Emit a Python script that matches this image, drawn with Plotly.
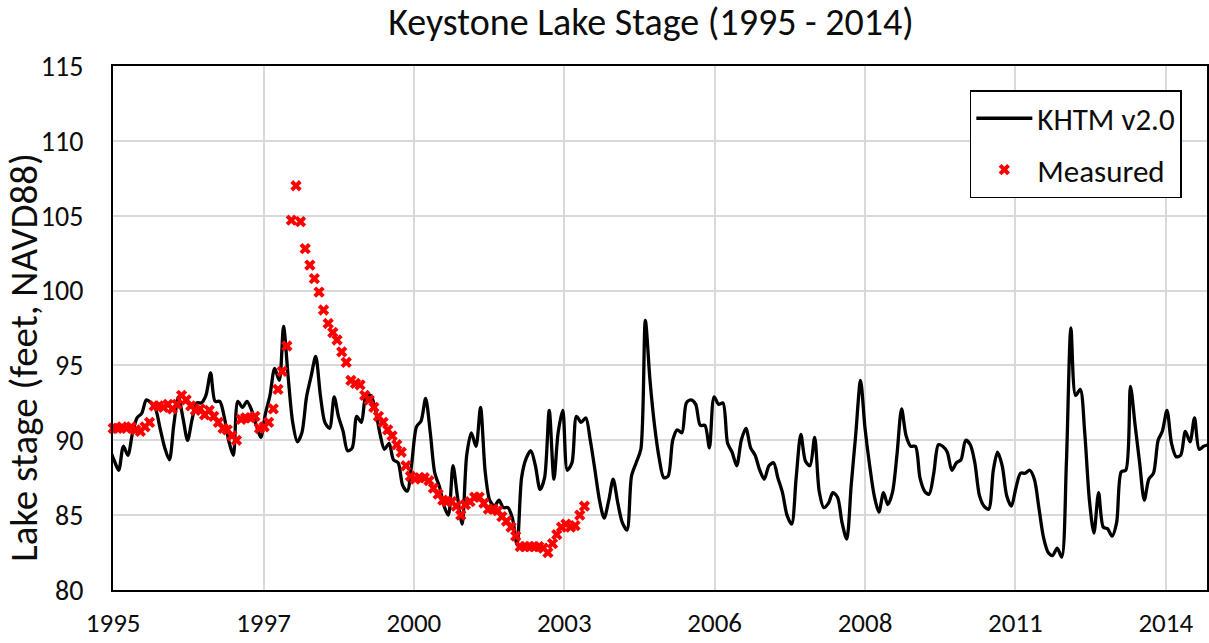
import pandas as pd
import plotly.graph_objects as go

# ---------------- data ----------------
# KHTM v2.0 modelled stage, one value per month, Jan 1995 .. Jan 2015
khtm_dates = pd.date_range("1995-01-01", periods=241, freq="MS") + pd.Timedelta(days=8)
khtm_stage = [
    89.4, 88.6, 88.0, 89.6, 89.0, 90.5, 91.5, 91.8, 92.7, 92.5, 92.1, 90.8,   # 1995
    89.5, 88.7, 91.0, 92.9, 91.5, 90.0, 91.4, 92.5, 92.5, 93.0, 94.5, 92.6,   # 1996
    92.6, 91.5, 90.0, 89.0, 92.6, 92.2, 92.6, 92.0, 91.0, 90.2, 91.8, 93.0,   # 1997
    94.8, 94.0, 97.6, 94.2, 91.2, 89.9, 90.5, 92.9, 94.3, 95.6, 93.0, 91.2,   # 1998
    90.8, 92.9, 91.6, 90.6, 89.3, 89.5, 91.6, 91.2, 93.0, 93.0, 92.1, 90.5,   # 1999
    89.4, 89.8, 88.7, 88.5, 87.0, 86.6, 88.5, 90.9, 91.3, 92.8, 90.5, 87.8,   # 2000
    86.9, 85.6, 85.0, 88.3, 86.2, 84.4, 89.0, 90.5, 89.6, 92.2, 87.9, 86.0,   # 2001
    85.6, 86.0, 85.5, 85.5, 84.8, 83.0, 87.5, 88.8, 89.3, 88.3, 86.7, 87.5,   # 2002
    92.0, 87.4, 90.5, 92.0, 88.0, 88.5, 91.6, 91.2, 91.5, 90.0, 88.0, 86.0,   # 2003
    84.8, 86.0, 87.4, 85.8, 84.5, 84.0, 87.6, 88.5, 89.4, 98.0, 94.0, 91.0,   # 2004
    88.8, 87.5, 87.6, 90.0, 90.7, 90.5, 92.5, 92.7, 92.4, 91.0, 91.0, 89.5,   # 2005
    92.9, 92.4, 92.5, 89.8, 89.2, 88.3, 90.0, 90.8, 89.5, 89.0, 88.0, 87.4,   # 2006
    88.3, 88.5, 87.5, 86.5, 85.0, 84.4, 87.5, 90.4, 88.6, 88.3, 90.2, 86.6,   # 2007
    85.5, 85.8, 86.5, 86.2, 84.5, 83.4, 87.0, 90.5, 94.0, 90.8, 88.3, 86.3,   # 2008
    85.2, 86.5, 85.7, 86.5, 89.0, 92.1, 90.3, 89.6, 89.6, 87.5, 86.6, 86.4,   # 2009
    87.8, 89.7, 89.6, 89.2, 88.0, 88.5, 88.7, 90.0, 89.7, 88.5, 86.3, 85.6,   # 2010
    85.4, 88.0, 89.2, 88.3, 86.3, 85.6, 86.8, 87.8, 87.8, 88.0, 87.4, 85.5,   # 2011
    83.5, 82.5, 82.3, 82.8, 82.2, 88.5, 97.5, 93.0, 93.4, 90.5, 86.0, 83.8,   # 2012
    86.5, 84.2, 84.1, 83.6, 84.5, 87.9, 88.0, 93.6, 91.0, 88.5, 86.0, 87.4,   # 2013
    87.8, 90.0, 90.6, 92.0, 89.8, 88.9, 89.0, 90.6, 89.9, 91.5, 89.4, 89.6,   # 2014
    89.7,                                                                     # 2015
]

# Measured lake stage, monthly (month end), Jan 1995 .. Aug 2003
measured_dates = pd.date_range("1995-01-31", periods=104, freq="ME")
measured_stage = [
    90.8, 90.8, 90.9, 90.8, 90.9, 90.7, 90.6, 90.9, 91.2, 92.3, 92.3, 92.2,   # 1995
    92.4, 92.1, 92.4, 93.0, 92.7, 92.3, 92.0, 92.1, 91.7, 92.0, 91.6, 91.2,   # 1996
    90.8, 90.7, 90.3, 90.0, 91.4, 91.5, 91.5, 91.6, 90.8, 90.9, 91.2, 92.1,   # 1997
    93.4, 94.6, 96.3, 104.7, 107.0, 104.6, 102.8, 101.7, 100.8, 99.9, 98.7, 97.8,  # 1998
    97.2, 96.7, 95.9, 95.2, 94.0, 93.8, 93.7, 93.0, 92.7, 92.2, 91.6, 91.2,   # 1999
    90.7, 90.3, 89.7, 89.2, 88.3, 87.6, 87.4, 87.5, 87.5, 87.3, 86.8, 86.4,   # 2000
    86.0, 85.9, 85.9, 85.6, 85.0, 85.7, 85.9, 86.2, 86.2, 85.8, 85.4, 85.4,   # 2001
    85.3, 84.9, 84.6, 84.2, 83.6, 82.9, 82.9, 82.9, 82.9, 82.9, 82.8, 82.5,   # 2002
    83.1, 83.7, 84.2, 84.4, 84.2, 84.3, 85.0, 85.6,                           # 2003
]

title_text = "Keystone Lake Stage (1995 - 2014)"
y_title_text = "Lake stage (feet, NAVD88)"
x_range = ["1995-01-30", "2014-12-31"]
y_range = [80, 115]

FONT = "Carlito, Calibri, Lato, sans-serif"
TXT = "#0d0d0d"

fig = go.Figure()
fig.add_trace(go.Scatter(
    x=khtm_dates, y=khtm_stage, mode="lines", name="KHTM v2.0",
    line=dict(color="black", width=3.3, shape="spline", smoothing=0.8),
    legendgroup="model",
))
fig.add_trace(go.Scatter(
    x=measured_dates, y=measured_stage, mode="markers", name="Measured",
    marker=dict(symbol="x", size=10, color="#ff0000", line=dict(width=0)),
    cliponaxis=False, legendgroup="measured",
))

fig.update_layout(
    width=1209, height=643,
    margin=dict(l=113, r=2, t=66, b=53, autoexpand=False),
    paper_bgcolor="white", plot_bgcolor="white",
    font=dict(family=FONT, color=TXT),
    title=dict(text=title_text, x=0.5385, xanchor="center",
               yref="container", y=1 - 22 / 643, yanchor="middle",
               font=dict(family=FONT, size=38, color=TXT)),
    showlegend=True,
    legend=dict(x=0.977, xanchor="right", y=0.954, yanchor="top",
                bordercolor="black", borderwidth=1.5, bgcolor="white",
                font=dict(family=FONT, size=31, color=TXT),
                itemwidth=56, tracegroupgap=8),
    xaxis=dict(
        type="date", range=x_range, tick0="1995-01-31", dtick=86400000 * 1000,
        tickformat="%Y", showgrid=True, gridcolor="#d9d9d9", gridwidth=1.5,
        showline=True, linecolor="black", linewidth=2, mirror=True,
        ticks="", ticklabelstandoff=8, zeroline=False, automargin=False,
        tickfont=dict(family=FONT, size=27, color=TXT),
    ),
    yaxis=dict(
        range=y_range, tick0=80, dtick=5, showgrid=True, gridcolor="#d9d9d9",
        gridwidth=1.5, showline=True, linecolor="black", linewidth=2, mirror=True,
        ticks="", ticklabelstandoff=22, zeroline=False, automargin=False,
        tickfont=dict(family=FONT, size=28, color=TXT),
    ),
    annotations=[dict(
        text=y_title_text, textangle=-90, xref="paper", yref="paper",
        x=(24 - 113) / 1094, y=(590.5 - 358) / 524.5, xanchor="center", yanchor="middle",
        showarrow=False, font=dict(family=FONT, size=39, color=TXT),
    )],
)

fig.write_html("out.html", config={"displayModeBar": False},
               post_script="document.body.style.margin='0px';")
